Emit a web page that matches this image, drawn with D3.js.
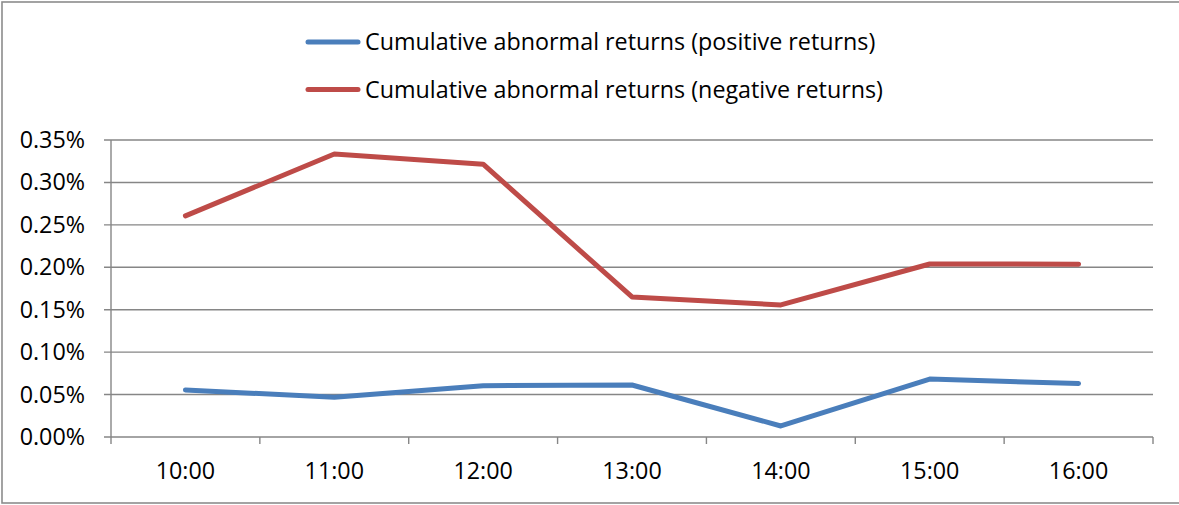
<!DOCTYPE html>
<html>
<head>
<meta charset="utf-8">
<script src="https://cdn.jsdelivr.net/npm/d3@7"></script>
<style>
  body { margin: 0; background: #fff; }
  text { font-family: "Open Sans", sans-serif; fill: #000; }
</style>
</head>
<body>
<div id="c1"></div>
<script>
// Data
var hours = ["10:00", "11:00", "12:00", "13:00", "14:00", "15:00", "16:00"];
var positiveReturns = [0.0554, 0.0468, 0.0605, 0.0613, 0.0130, 0.0683, 0.0630];
var negativeReturns = [0.2606, 0.3335, 0.3215, 0.1650, 0.1556, 0.2039, 0.2037];
var yTicks = [0, 0.05, 0.10, 0.15, 0.20, 0.25, 0.30, 0.35];
var seriesNames = ["Cumulative abnormal returns (positive returns)", "Cumulative abnormal returns (negative returns)"];
var seriesColors = ["#4a7ebb", "#be4b48"];

var w = 1179;
var h = 505;
var plotLeft = 111, plotRight = 1153, plotTop = 140, plotBottom = 437;
var fontSize = "23.3px";

var svg = d3.select("#c1").append("svg")
    .attr("width", w)
    .attr("height", h);

// chart frame (right edge runs off the picture)
svg.append("rect")
    .attr("x", 2).attr("y", 2)
    .attr("width", 1185)
    .attr("height", 501)
    .attr("fill", "none")
    .attr("stroke", "#8c8c8c")
    .attr("stroke-width", 1.6);

var x = d3.scaleBand().domain(hours).range([plotLeft, plotRight]);
var y = d3.scaleLinear().domain([0, 0.35]).range([plotBottom, plotTop]);

// gridlines
svg.append("g")
    .selectAll("line")
    .data(yTicks)
    .enter()
    .append("line")
    .attr("x1", plotLeft - 7).attr("x2", plotRight)
    .attr("y1", function (d) { return y(d); })
    .attr("y2", function (d) { return y(d); })
    .attr("stroke", "#868686")
    .attr("stroke-width", 1.4);

// y axis line
svg.append("line")
    .attr("x1", plotLeft).attr("x2", plotLeft)
    .attr("y1", plotTop).attr("y2", plotBottom + 7)
    .attr("stroke", "#868686")
    .attr("stroke-width", 1.4);

// x ticks
var xTickPos = hours.map(function (d) { return x(d); }).concat([plotRight]);
svg.append("g")
    .selectAll("line")
    .data(xTickPos.slice(1))
    .enter()
    .append("line")
    .attr("x1", function (d) { return d; })
    .attr("x2", function (d) { return d; })
    .attr("y1", plotBottom).attr("y2", plotBottom + 7)
    .attr("stroke", "#868686")
    .attr("stroke-width", 1.4);

// y labels
svg.append("g")
    .selectAll("text")
    .data(yTicks)
    .enter()
    .append("text")
    .attr("x", 85)
    .attr("y", function (d) { return y(d) + 8; })
    .attr("text-anchor", "end")
    .style("font-size", fontSize)
    .text(function (d) { return d.toFixed(2) + "%"; });

// x labels
svg.append("g")
    .selectAll("text")
    .data(hours)
    .enter()
    .append("text")
    .attr("x", function (d) { return x(d) + x.bandwidth() / 2; })
    .attr("y", 479)
    .attr("text-anchor", "middle")
    .style("font-size", fontSize)
    .text(function (d) { return d; });

// lines
var line = d3.line()
    .x(function (d, i) { return x(hours[i]) + x.bandwidth() / 2; })
    .y(function (d) { return y(d); });

[positiveReturns, negativeReturns].forEach(function (s, k) {
    svg.append("path")
        .datum(s)
        .attr("d", line)
        .attr("fill", "none")
        .attr("stroke", seriesColors[k])
        .attr("stroke-width", 5)
        .attr("stroke-linejoin", "round")
        .attr("stroke-linecap", "round");
});

// legend
var legend = svg.append("g")
    .selectAll("g")
    .data(seriesNames)
    .enter()
    .append("g")
    .attr("transform", function (d, i) { return "translate(0," + (42 + i * 47.5) + ")"; });

legend.append("line")
    .attr("x1", 308).attr("x2", 358)
    .attr("y1", 0).attr("y2", 0)
    .attr("stroke", function (d, i) { return seriesColors[i]; })
    .attr("stroke-width", 5)
    .attr("stroke-linecap", "round");

legend.append("text")
    .attr("x", 365)
    .attr("y", 8)
    .style("font-size", fontSize)
    .text(function (d) { return d; });
</script>
</body>
</html>
